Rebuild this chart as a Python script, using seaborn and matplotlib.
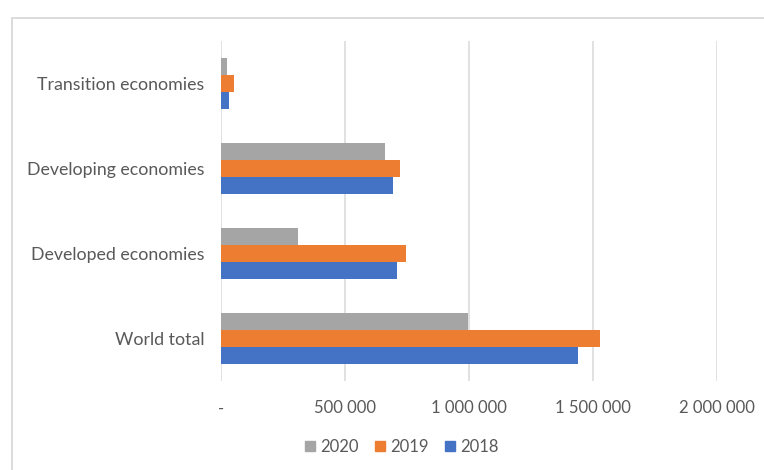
"""Grouped horizontal bar chart: values by economy group, 2018-2020"""
import matplotlib.pyplot as plt
import matplotlib.ticker as tck
from matplotlib.patches import Rectangle
import pandas as pd
import seaborn as sns

categories = ["Transition economies", "Developing economies",
              "Developed economies", "World total"]
years = ["2020", "2019", "2018"]
values_2020 = [24000, 663000, 312000, 999000]
values_2019 = [55000, 721000, 749000, 1530000]
values_2018 = [34000, 693000, 709000, 1441000]
x_ticks = [0, 500000, 1000000, 1500000, 2000000]

colors = {"2020": "#A5A5A5", "2019": "#ED7D31", "2018": "#4472C4"}
text_color = "#595959"


def fmt(v, pos):
    if v == 0:
        return "-"
    return f"{int(v):,}".replace(",", " ")


def main():
    sns.set_theme(style="white")
    plt.rcParams["font.family"] = ["Lato", "DejaVu Sans"]

    data = pd.DataFrame({
        "category": categories * 3,
        "year": ["2020"] * 4 + ["2019"] * 4 + ["2018"] * 4,
        "value": values_2020 + values_2019 + values_2018,
    })

    fig = plt.figure(figsize=(7.64, 4.70), dpi=100)
    ax = fig.add_axes([0.2889, 0.1894, 0.6492, 0.7234])

    sns.barplot(data=data, y="category", x="value", hue="year",
                order=categories, hue_order=years, palette=colors,
                orient="h", width=0.61, linewidth=0, saturation=1,
                errorbar=None, ax=ax)

    ax.set_xlim(0, 2000000)
    ax.set_xticks(x_ticks)
    ax.xaxis.set_major_formatter(tck.FuncFormatter(fmt))
    ax.xaxis.grid(True, color="#D9D9D9", linewidth=1.1)
    ax.set_axisbelow(True)
    for s in ax.spines.values():
        s.set_visible(False)
    ax.set_xlabel("")
    ax.set_ylabel("")
    ax.tick_params(axis="x", length=0, pad=14, labelsize=12, labelcolor=text_color)
    ax.tick_params(axis="y", length=0, pad=12, labelsize=12.8, labelcolor=text_color)

    ax.legend_.remove()
    handles = [plt.Line2D([], [], marker="s", linestyle="", markersize=7,
                          color=colors[y]) for y in years]
    fig.legend(handles, years, loc="center", bbox_to_anchor=(0.5236, 0.049),
               ncol=3, frameon=False, fontsize=12, labelcolor=text_color,
               handletextpad=0.1, columnspacing=0.8, handlelength=1.0)

    # chart area border (cut off at the right and bottom)
    fig.patches.append(Rectangle((12 / 764, -0.1), 1.2, 1 - 18 / 470 + 0.1,
                                 transform=fig.transFigure, fill=False,
                                 edgecolor="#D9D9D9", linewidth=1.3))

    fig.savefig("out.png", dpi=100)


if __name__ == "__main__":
    main()
